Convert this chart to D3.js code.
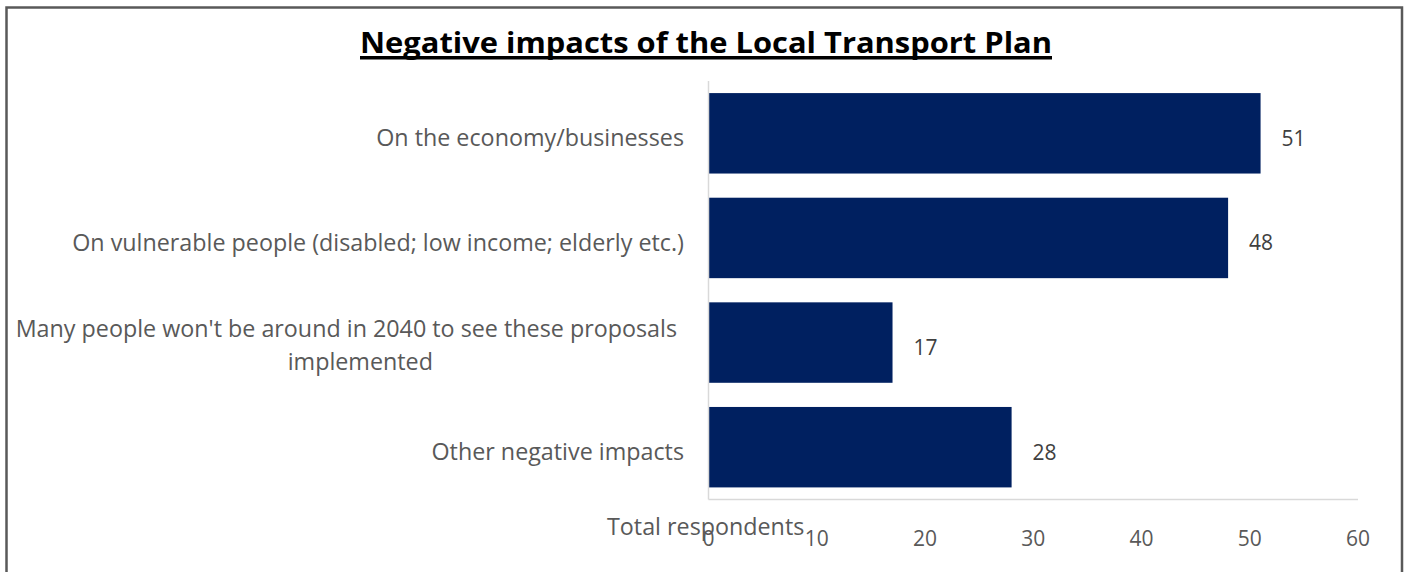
<!DOCTYPE html>
<html>
<head>
<meta charset="utf-8">
<script src="https://cdn.jsdelivr.net/npm/d3@7"></script>
<style>
  html, body { margin: 0; padding: 0; background: #ffffff; }
  svg { display: block; }
</style>
</head>
<body>
<svg id="chart" width="1406" height="572"></svg>
<script>
const titleText = "Negative impacts of the Local Transport Plan";
const categories = [
  ["On the economy/businesses"],
  ["On vulnerable people (disabled; low income; elderly etc.)"],
  ["Many people won't be around in 2040 to see these proposals", "implemented"],
  ["Other negative impacts"]
];
const values = [51, 48, 17, 28];
const xTicks = [0, 10, 20, 30, 40, 50, 60];
const xAxisTitle = "Total respondents";

const svg = d3.select("#chart");
const font = "'Open Sans', 'Liberation Sans', sans-serif";
const labelSize = 23.3;

// border (left, top, right)
svg.append("path")
  .attr("d", "M6.5,580 L6.5,7.5 L1402,7.5 L1402,580")
  .attr("fill", "none").attr("stroke", "#595959").attr("stroke-width", 2.5);

const keys = categories.map(c => c.join(" "));
const y = d3.scaleBand().domain(keys).range([81, 499.5]).paddingInner(0.231).paddingOuter(0.1155);
const x = d3.scaleLinear().domain([0, 60]).range([708.5, 1358]);

// title
svg.append("text")
  .attr("x", 360).attr("y", 52.5)
  .attr("textLength", 692).attr("lengthAdjust", "spacingAndGlyphs")
  .attr("font-family", font).attr("font-weight", "bold")
  .attr("font-size", 29).attr("fill", "#000")
  .text(titleText);
svg.append("rect").attr("x", 360).attr("y", 56).attr("width", 692).attr("height", 3.5).attr("fill", "#000");

// bars
svg.selectAll("rect.bar").data(values).enter().append("rect")
  .attr("class", "bar")
  .attr("x", x(0))
  .attr("y", (d, i) => y(keys[i]))
  .attr("width", d => x(d) - x(0))
  .attr("height", y.bandwidth())
  .attr("fill", "#002060");

// axes lines
svg.append("line").attr("x1", x(0)).attr("x2", x(0)).attr("y1", 81).attr("y2", 499.5)
  .attr("stroke", "#d9d9d9").attr("stroke-width", 1.5);
svg.append("line").attr("x1", x(0)).attr("x2", x(60)).attr("y1", 499.5).attr("y2", 499.5)
  .attr("stroke", "#d9d9d9").attr("stroke-width", 1.5);

// value labels
svg.selectAll("text.val").data(values).enter().append("text")
  .attr("class", "val")
  .attr("x", d => x(d) + 21)
  .attr("y", (d, i) => y(keys[i]) + y.bandwidth() / 2 + 12.5)
  .attr("font-family", font).attr("font-size", 21).attr("fill", "#404040")
  .text(d => d);

// category labels
categories.forEach((lines, i) => {
  const cy = y(keys[i]) + y.bandwidth() / 2;
  if (lines.length === 1) {
    svg.append("text")
      .attr("x", 684).attr("y", cy + 13)
      .attr("text-anchor", "end")
      .attr("font-family", font).attr("font-size", labelSize).attr("fill", "#595959")
      .text(lines[0]);
  } else {
    const t1 = svg.append("text")
      .attr("x", 677).attr("y", cy - 5.5)
      .attr("text-anchor", "end")
      .attr("font-family", font).attr("font-size", labelSize).attr("fill", "#595959")
      .text(lines[0]);
    const w1 = t1.node().getComputedTextLength();
    svg.append("text")
      .attr("x", 677 - w1 / 2 + 14).attr("y", cy + 27.5)
      .attr("text-anchor", "middle")
      .attr("font-family", font).attr("font-size", labelSize).attr("fill", "#595959")
      .text(lines[1]);
  }
});

// x tick labels
svg.selectAll("text.tick").data(xTicks).enter().append("text")
  .attr("class", "tick")
  .attr("x", d => x(d))
  .attr("y", 546)
  .attr("text-anchor", "middle")
  .attr("font-family", font).attr("font-size", 21).attr("fill", "#595959")
  .text(d => d);

// x axis title
svg.append("text")
  .attr("x", 607).attr("y", 535)
  .attr("font-family", font).attr("font-size", labelSize).attr("fill", "#595959")
  .text(xAxisTitle);
</script>
</body>
</html>
